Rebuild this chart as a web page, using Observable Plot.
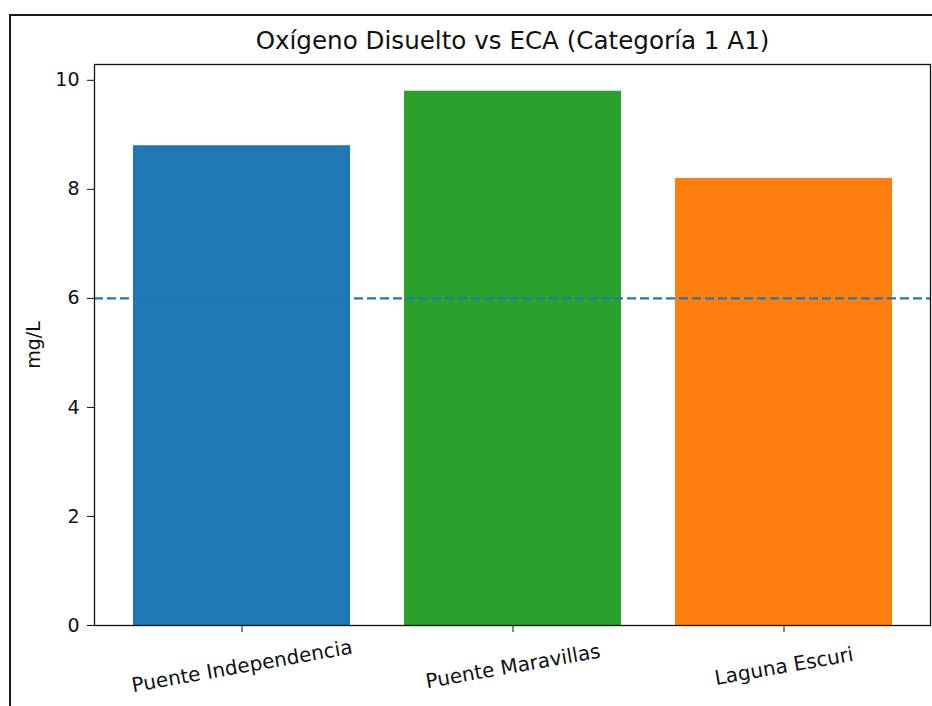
<!DOCTYPE html>
<html>
<head>
<meta charset="utf-8">
<script src="https://cdn.jsdelivr.net/npm/d3@7"></script>
<script src="https://cdn.jsdelivr.net/npm/@observablehq/plot@0.6"></script>
<style>
  html, body { margin: 0; padding: 0; background: #fff; overflow: hidden; }
  #wrap { position: relative; width: 932px; height: 706px; }
  #border { position: absolute; left: 9px; top: 14px; width: 1000px; height: 1000px;
            border-left: 2px solid #1a1a1a; border-top: 2px solid #1a1a1a; pointer-events: none; }
</style>
</head>
<body>
<div id="wrap"><div id="border"></div></div>
<script>
const title = "Oxígeno Disuelto vs ECA (Categoría 1 A1)";
const yLabel = "mg/L";
const categories = ["Puente Independencia", "Puente Maravillas", "Laguna Escuri"];
const values = [8.8, 9.8, 8.2];
const colors = ["#1f77b4", "#2ca02c", "#ff7f0e"];
const threshold = [6];
const yTicks = [0, 2, 4, 6, 8, 10];

const data = categories.map((c, i) => ({category: c, value: values[i], color: colors[i]}));
const font = "DejaVu Sans, sans-serif";

const chart = Plot.plot({
  width: 932,
  height: 706,
  marginLeft: 94,
  marginRight: 2,
  marginTop: 64,
  marginBottom: 81,
  style: {fontFamily: font, fontSize: "19px", color: "#111", background: "white"},
  x: {domain: categories, paddingInner: 0.2, paddingOuter: 0.14, label: null},
  y: {domain: [0, 10.29], label: null},
  marks: [
    Plot.barY(data, {x: "category", y: "value", fill: "color"}),
    Plot.ruleY(threshold, {stroke: "#1f77b4", strokeWidth: 2.2, strokeDasharray: "9,4"}),
    Plot.frame({stroke: "#111", strokeWidth: 1.3}),
    Plot.axisY({ticks: yTicks, tickSize: 7, tickPadding: 8, fontSize: 19, label: null, stroke: "#111"}),
    Plot.axisX({tickSize: 7, tickFormat: () => "", label: null, stroke: "#111"}),
    Plot.text(categories, {x: d => d, frameAnchor: "bottom", dy: 41, rotate: -10,
      fontSize: 20, textAnchor: "middle", lineAnchor: "middle", fill: "#111"}),
    Plot.text([yLabel], {frameAnchor: "left", dx: -61, rotate: -90, fontSize: 19,
      textAnchor: "middle", lineAnchor: "middle", fill: "#111"}),
    Plot.text([title], {frameAnchor: "top", dy: -23, fontSize: 24.6,
      textAnchor: "middle", lineAnchor: "middle", fill: "#111"})
  ]
});
document.getElementById("wrap").prepend(chart);
</script>
</body>
</html>
